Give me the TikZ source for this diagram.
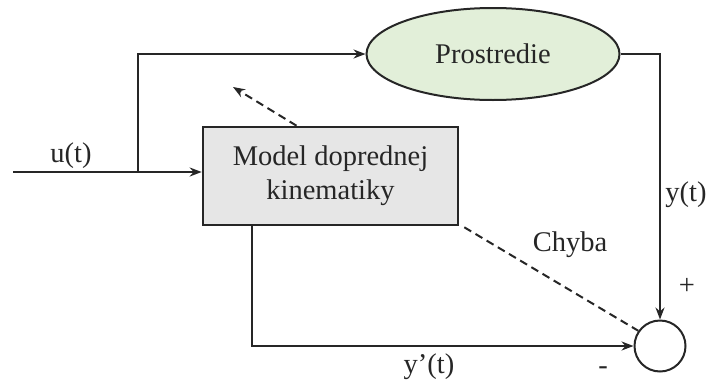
\documentclass[tikz,border=0pt]{standalone}
\usepackage{fontspec}
\setmainfont{Liberation Serif}
\usetikzlibrary{arrows.meta,shapes.geometric}
\tikzset {>=Stealth}
\definecolor{envgreen}{HTML}{E2EFD9}
\definecolor{boxgray}{HTML}{E6E6E6}
\tikzset{
  envnode/.style={ellipse,draw,fill=envgreen,minimum width=253,minimum height=92,inner sep=0},
  modelnode/.style={rectangle,draw,line width=2.6pt,fill=boxgray,minimum width=255,minimum height=98,align=center},
  sumnode/.style={circle,draw,minimum size=51,inner sep=0},
  errline/.style={dash pattern=on 8pt off 5pt}
}

\begin{document}
\begin{tikzpicture}[x=1pt,y=-1pt,line width=2pt,color=black!85,
  font=\fontsize{28.5}{34}\selectfont]
\useasboundingbox (0,0) rectangle (708,380);
\node[envnode] (env) at (493,54) {Prostredie};
\node[modelnode] (model) at (330.5,176) {Model doprednej\\kinematiky};
\node[sumnode] (sum) at (660,346) {};
\coordinate (in) at (13,172);
\coordinate (split) at (138,172);
\coordinate (adj) at (233,87);
\draw (in) -- (split);
\draw[->] (split) -- (model.west |- split);
\draw[->] (split) |- (env.west);
\draw[->] (env.east) -| (sum.north);
\draw[->] ([xshift=-78.5]model.south) |- (sum.west);
\draw[->,errline] ([xshift=-34]model.north) -- (adj);
\draw[errline] ([shift={(5,1)}]model.south east) -- (sum.145);
% labels
\node (lu) at (71,156) {u(t)};
\node (ly) at (686,195) {y(t)};
\node (lerr) at (570,245) {Chyba};
\node (lym) at (429,367) {y’(t)};
\node (lplus) at (687,286) {+};
\node[inner sep=0] (lminus) at (603,371) {-};
\end{tikzpicture}
\end{document}
